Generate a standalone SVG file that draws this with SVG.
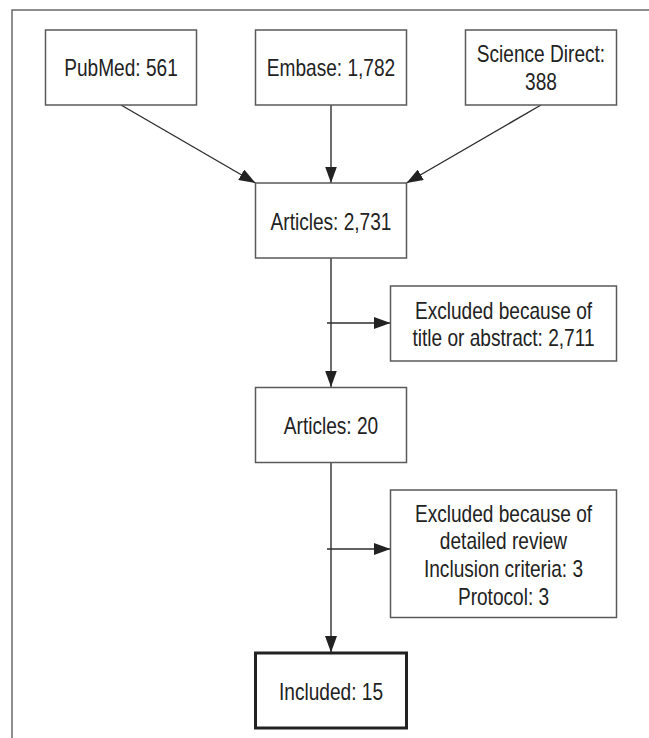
<svg xmlns="http://www.w3.org/2000/svg" width="649" height="738" viewBox="0 0 649 738">
<style>
  .box { fill: #ffffff; stroke: #5a5a5a; stroke-width: 1.5; }
  .box-strong { fill: #ffffff; stroke: #222222; stroke-width: 3; }
  .frame { fill: none; stroke: #6a6a6a; stroke-width: 1.5; }
  .conn { fill: none; stroke: #2e2e2e; stroke-width: 1.4; marker-end: url(#arrow); }
  text { font-family: "Liberation Sans", Arial, sans-serif; font-size: 23px; fill: #222222; text-anchor: middle; }
</style>
<defs>
  <marker id="arrow" markerUnits="userSpaceOnUse" markerWidth="17" markerHeight="12" refX="16.5" refY="6" orient="auto">
    <path d="M0,0 L16.5,6 L0,12 Z" fill="#222222"/>
  </marker>
</defs>
<rect width="649" height="738" fill="#ffffff"/>
<g id="frame">
  <path class="frame" d="M12,738 L12,10 L649,10"/>
</g>
<g id="connectors">
  <line class="conn" x1="121" y1="105" x2="255.5" y2="183"/>
  <line class="conn" x1="331" y1="105" x2="331" y2="183"/>
  <line class="conn" x1="541" y1="105" x2="406.5" y2="183"/>
  <line class="conn" x1="331" y1="258" x2="331" y2="387"/>
  <line class="conn" x1="327" y1="323" x2="390.5" y2="323"/>
  <line class="conn" x1="331" y1="462.5" x2="331" y2="652.5"/>
  <line class="conn" x1="327" y1="549" x2="390.5" y2="549"/>
</g>
<g id="pubmed">
  <rect class="box" x="45.5" y="30" width="151" height="75"/>
  <text transform="translate(121,76) scale(0.83,1)">PubMed: 561</text>
</g>
<g id="embase">
  <rect class="box" x="255.5" y="30" width="151" height="75"/>
  <text transform="translate(331,76) scale(0.83,1)">Embase: 1,782</text>
</g>
<g id="sciencedirect">
  <rect class="box" x="465.5" y="30" width="151" height="75"/>
  <text transform="translate(541,61.5) scale(0.83,1)">Science Direct:</text>
  <text transform="translate(541,90) scale(0.83,1)">388</text>
</g>
<g id="articles2731">
  <rect class="box" x="255.5" y="183" width="151" height="75"/>
  <text transform="translate(331,229.5) scale(0.83,1)">Articles: 2,731</text>
</g>
<g id="excluded1">
  <rect class="box" x="390.5" y="286" width="226" height="75"/>
  <text transform="translate(503.5,318.5) scale(0.83,1)">Excluded because of</text>
  <text transform="translate(503.5,346) scale(0.83,1)">title or abstract: 2,711</text>
</g>
<g id="articles20">
  <rect class="box" x="255.5" y="387.5" width="151" height="75"/>
  <text transform="translate(331,433.5) scale(0.83,1)">Articles: 20</text>
</g>
<g id="excluded2">
  <rect class="box" x="390.5" y="490" width="226" height="127.5"/>
  <text transform="translate(503.5,521.5) scale(0.83,1)">Excluded because of</text>
  <text transform="translate(503.5,549) scale(0.83,1)">detailed review</text>
  <text transform="translate(503.5,577) scale(0.83,1)">Inclusion criteria: 3</text>
  <text transform="translate(503.5,605) scale(0.83,1)">Protocol: 3</text>
</g>
<g id="included">
  <rect class="box-strong" x="255.5" y="653" width="151" height="75"/>
  <text transform="translate(331,699.5) scale(0.83,1)">Included: 15</text>
</g>
</svg>
